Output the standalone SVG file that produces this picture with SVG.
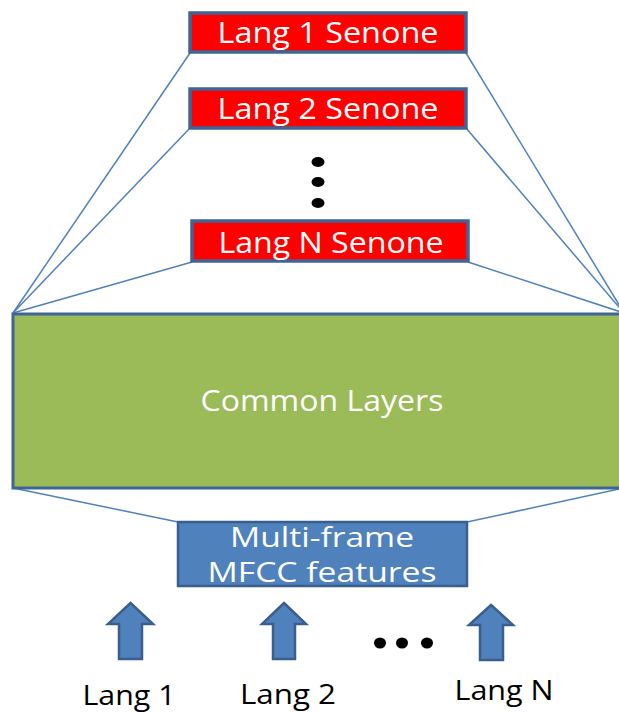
<svg xmlns="http://www.w3.org/2000/svg" width="619" height="713" viewBox="0 0 619 713">
<style>
.sen{fill:#ff0000;stroke:#3f6597;stroke-width:3.5}
.wt{fill:#ffffff;font-family:"Open Sans",sans-serif;font-size:29px;text-anchor:middle}
.mt{fill:#ffffff;font-family:"Open Sans",sans-serif;font-size:27px;text-anchor:middle}
.bt{fill:#000000;font-family:"Open Sans",sans-serif;font-size:28px;text-anchor:middle}
.ln{stroke:#4f81bd;stroke-width:1.5;fill:none}
.arr{fill:#4f81bd;stroke:#3a5f8f;stroke-width:2.5}
.dot{fill:#000000}
</style>
<rect width="619" height="713" fill="#ffffff"/>
<g id="connectors">
<line class="ln" x1="190" y1="53" x2="13" y2="313"/>
<line class="ln" x1="190" y1="128" x2="13" y2="313"/>
<line class="ln" x1="192" y1="262" x2="13" y2="313"/>
<line class="ln" x1="466" y1="53" x2="624" y2="313"/>
<line class="ln" x1="466" y1="128" x2="624" y2="313"/>
<line class="ln" x1="468" y1="262" x2="624" y2="313"/>
<line class="ln" x1="13" y1="488" x2="178" y2="522"/>
<line class="ln" x1="624" y1="488" x2="467" y2="522"/>
</g>
<g id="lang1senone">
<rect class="sen" x="190" y="13" width="276" height="39"/>
<text class="wt" x="328" y="43" textLength="221" lengthAdjust="spacingAndGlyphs">Lang 1 Senone</text>
</g>
<g id="lang2senone">
<rect class="sen" x="190" y="89" width="276" height="39"/>
<text class="wt" x="328" y="119" textLength="221" lengthAdjust="spacingAndGlyphs">Lang 2 Senone</text>
</g>
<g id="vdots">
<ellipse class="dot" cx="318" cy="162" rx="6.5" ry="5"/>
<ellipse class="dot" cx="318" cy="182" rx="6.5" ry="5"/>
<ellipse class="dot" cx="318" cy="203" rx="6.5" ry="5"/>
</g>
<g id="langNsenone">
<rect class="sen" x="192" y="221" width="276" height="40"/>
<text class="wt" x="331" y="253" textLength="225" lengthAdjust="spacingAndGlyphs">Lang N Senone</text>
</g>
<g id="common">
<rect x="13" y="314" width="612" height="174" fill="#9bbb59" stroke="#3f6597" stroke-width="3"/>
<text class="wt" x="322" y="411" textLength="243" lengthAdjust="spacingAndGlyphs">Common Layers</text>
</g>
<g id="mfcc">
<rect x="178" y="522" width="289" height="64" fill="#4f81bd" stroke="#3a5f8f" stroke-width="2.5"/>
<text class="mt" x="322" y="547" textLength="184" lengthAdjust="spacingAndGlyphs">Multi-frame</text>
<text class="mt" x="322" y="582" textLength="229" lengthAdjust="spacingAndGlyphs">MFCC features</text>
</g>
<g id="arrow1">
<polygon class="arr" points="130.5,603 153,624 142,624 142,659 119,659 119,624 108,624"/>
</g>
<g id="arrow2">
<polygon class="arr" points="284,603 306,624 295,624 295,659 273,659 273,624 262,624"/>
</g>
<g id="arrowN">
<polygon class="arr" points="491,605 513,625 503,625 503,660 480,660 480,625 469,625"/>
</g>
<g id="hdots">
<ellipse class="dot" cx="380" cy="643" rx="6" ry="5.5"/>
<ellipse class="dot" cx="402" cy="643" rx="6" ry="5.5"/>
<ellipse class="dot" cx="427" cy="643" rx="6" ry="5.5"/>
</g>
<g id="labels">
<text class="bt" x="129" y="705" textLength="93" lengthAdjust="spacingAndGlyphs">Lang 1</text>
<text class="bt" x="288" y="704" textLength="96" lengthAdjust="spacingAndGlyphs">Lang 2</text>
<text class="bt" x="504" y="700" textLength="99" lengthAdjust="spacingAndGlyphs">Lang N</text>
</g>
</svg>
